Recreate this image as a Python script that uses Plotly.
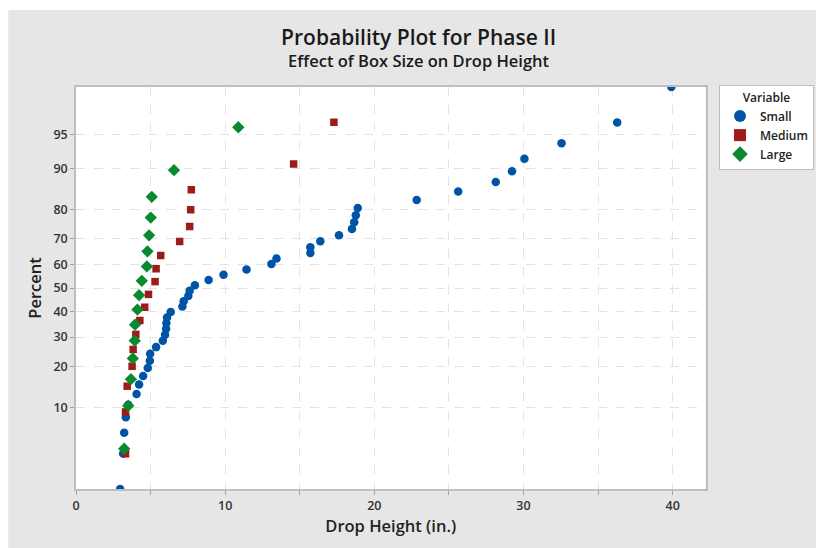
import plotly.graph_objects as go
from statistics import NormalDist

# Drop heights (in.), sorted
small = [2.96, 3.16, 3.23, 3.34, 3.50, 4.06, 4.23, 4.50, 4.81, 4.95, 4.97, 5.37,
         5.82, 5.97, 6.04, 6.06, 6.10, 6.35, 7.13, 7.22, 7.53, 7.62, 7.97, 8.89,
         9.89, 11.43, 13.10, 13.44, 15.71, 15.71, 16.38, 17.63, 18.50, 18.65,
         18.76, 18.89, 22.84, 25.62, 28.14, 29.23, 30.06, 32.55, 36.28, 39.91]
medium = [3.32, 3.32, 3.43, 3.76, 3.83, 4.01, 4.28, 4.61, 4.86, 5.30, 5.37, 5.68,
          6.95, 7.62, 7.69, 7.73, 14.59, 17.29]
large = [3.23, 3.50, 3.68, 3.81, 3.94, 3.96, 4.12, 4.23, 4.41, 4.75, 4.79, 4.90,
         5.01, 5.08, 6.57, 10.88]

pct_ticks = [10, 20, 30, 40, 50, 60, 70, 80, 90, 95]
x_ticks = [0, 10, 20, 30, 40]
x_grid = [5, 10, 15, 20, 25, 30, 35, 40]

series_names = ["Small", "Medium", "Large"]
series_colors = ["#0054A6", "#9E1B1B", "#0A8A2E"]
series_symbols = ["circle", "square", "diamond"]
series_sizes = [8.5, 7.5, 9.5]

nd = NormalDist()


def probit(p_percent):
    return nd.inv_cdf(p_percent / 100.0)


def median_rank_percent(n):
    # Benard's median-rank plotting positions (Minitab default)
    return [100.0 * (i - 0.3) / (n + 0.4) for i in range(1, n + 1)]


fig = go.Figure()
for name, data, col, sym, sz in zip(series_names, [small, medium, large],
                                    series_colors, series_symbols, series_sizes):
    pct = median_rank_percent(len(data))
    fig.add_trace(go.Scatter(
        x=data, y=[probit(p) for p in pct], mode="markers", name=name,
        marker=dict(color=col, symbol=sym, size=sz, line=dict(width=0)),
        cliponaxis=True,
    ))

font_family = "Open Sans, Noto Sans, sans-serif"

all_x_ticks = sorted(set(x_ticks + x_grid))
fig.update_layout(
    width=816, height=548,
    margin=dict(l=76, r=108, t=87, b=59),
    paper_bgcolor="#E6E6E6",
    plot_bgcolor="#FFFFFF",
    font=dict(family=font_family, color="#333333", size=12),
    title=dict(
        text="<span style='font-size:21px'>Probability Plot for Phase II</span><br>"
             "<span style='font-size:16.5px'>Effect of Box Size on Drop Height</span>",
        x=0.513, xanchor="center", xref="container",
        y=0.918, yanchor="top", yref="container",
        font=dict(family=font_family, color="#1a1a1a", weight=600),
    ),
    xaxis=dict(
        range=[0, 42.2],
        tickvals=all_x_ticks,
        ticktext=[str(v) if v in x_ticks else "" for v in all_x_ticks],
        ticks="outside", ticklen=4, tickcolor="#A0A0A0",
        showgrid=True, gridcolor="#E3E3E3", griddash="dash", gridwidth=1,
        zeroline=False, showline=True, linecolor="#BEBEBE", linewidth=1.5,
        mirror=True,
        tickfont=dict(size=12.5, color="#333333", weight=600),
        title=dict(text="Drop Height (in.)",
                   font=dict(size=16.5, color="#222222", weight=600),
                   standoff=6),
    ),
    yaxis=dict(
        range=[-2.1505, 2.1505],
        tickvals=[probit(p) for p in pct_ticks],
        ticktext=[str(p) for p in pct_ticks],
        ticks="outside", ticklen=4, tickcolor="#A0A0A0",
        showgrid=True, gridcolor="#E3E3E3", griddash="dash", gridwidth=1,
        zeroline=False, showline=True, linecolor="#BEBEBE", linewidth=1.5,
        mirror=True,
        tickfont=dict(size=12.5, color="#333333", weight=600),
        title=dict(text="Percent",
                   font=dict(size=16.5, color="#222222", weight=600),
                   standoff=8),
    ),
    legend=dict(
        xref="container", yref="container",
        x=719 / 816, xanchor="left", y=1 - 85 / 548, yanchor="top",
        bgcolor="#FFFFFF", bordercolor="#BEBEBE", borderwidth=1,
        font=dict(size=12, color="#222222", weight=600),
        title=dict(text="Variable",
                   font=dict(size=12, color="#222222", weight=600),
                   side="top center"),
        tracegroupgap=0, itemsizing="constant",
    ),
    showlegend=True,
    shapes=[
        dict(type="rect", xref="paper", yref="paper", x0=-0.2, x1=-0.1076,
             y0=-0.3, y1=1.3, fillcolor="#FFFFFF", line=dict(width=0)),
        dict(type="rect", xref="paper", yref="paper", x0=-0.2, x1=1.3,
             y0=1.1915, y1=1.3, fillcolor="#FFFFFF", line=dict(width=0)),
    ],
)

fig.write_html("out.html")
